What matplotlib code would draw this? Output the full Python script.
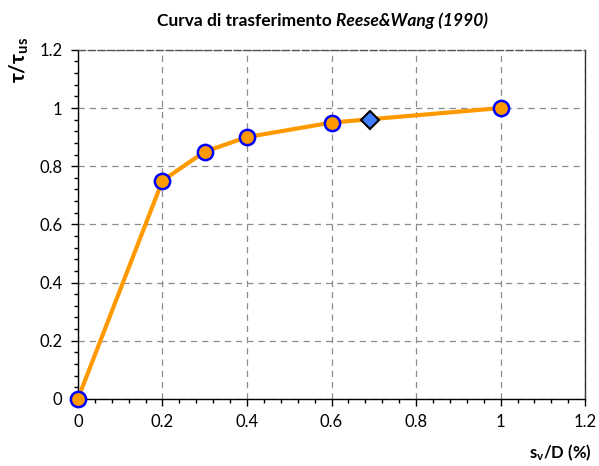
import matplotlib
matplotlib.use("Agg")
import matplotlib.pyplot as plt
from matplotlib.ticker import MultipleLocator

# data
sv_d = [0, 0.2, 0.3, 0.4, 0.6, 1.0]
tau_ratio = [0, 0.75, 0.85, 0.9, 0.95, 1.0]
diamond_x = [0.69]
diamond_y = [0.96]
tick_vals = [0, 0.2, 0.4, 0.6, 0.8, 1.0, 1.2]
tick_labels = ['0', '0.2', '0.4', '0.6', '0.8', '1', '1.2']

plt.rcParams['font.family'] = ['Lato', 'DejaVu Sans']
plt.rcParams['mathtext.fontset'] = 'custom'
plt.rcParams['mathtext.rm'] = 'Lato'
plt.rcParams['mathtext.it'] = 'Lato:italic'
plt.rcParams['mathtext.bf'] = 'Lato:bold'

fig = plt.figure(figsize=(5.99, 4.66), dpi=100)
ax = fig.add_axes([0.130, 0.144, 0.847, 0.749])

ax.plot(sv_d, tau_ratio, color='#ff9900', lw=3, zorder=3, clip_on=False,
        marker='o', ms=11, mfc='#ff9900', mec='#0000ff', mew=1.8)
ax.plot(diamond_x, diamond_y, ls='none', marker='D', ms=9, clip_on=False,
        mfc='#3f7fff', mec='black', mew=1.5, zorder=4)

ax.set_xlim(0, 1.2)
ax.set_ylim(0, 1.2)
ax.set_xticks(tick_vals, tick_labels)
ax.set_yticks(tick_vals, tick_labels)
ax.xaxis.set_minor_locator(MultipleLocator(0.04))
ax.yaxis.set_minor_locator(MultipleLocator(0.04))
ax.tick_params(which='major', direction='out', length=5, width=1,
               labelsize=12, pad=6)
ax.tick_params(which='minor', direction='out', length=3, width=1)

ax.grid(True, which='major', ls=(0, (5, 4)), color='#8c8c8c', lw=0.9, zorder=0)
ax.spines['top'].set_linestyle((0, (5, 2)))
ax.spines['top'].set_color('#555555')
ax.spines['right'].set_color('#333333')
for s in ax.spines.values():
    s.set_linewidth(1.0)
ax.set_axisbelow(True)

# title: bold part + bold italic part
t1 = fig.text(0, 0.955, "Curva di trasferimento ", ha='left', va='center',
              fontsize=12.5, fontweight='bold')
t2 = fig.text(0, 0.955, "Reese&Wang (1990)", ha='left', va='center',
              fontsize=12.5, fontweight='bold', style='italic')
fig.canvas.draw()
r = fig.canvas.get_renderer()
w1 = t1.get_window_extent(r).width / fig.bbox.width
w2 = t2.get_window_extent(r).width / fig.bbox.width
x0 = 0.538 - (w1 + w2) / 2
t1.set_x(x0)
t2.set_x(x0 + w1)

fig.text(0.033, 0.872, r"$\mathbf{\tau/\tau_{us}}$", rotation=90,
         ha='center', va='center', fontsize=15, fontweight='bold')
fig.text(0.935, 0.028, r"$\mathbf{s_v}$/D (%)", ha='center', va='center',
         fontsize=12, fontweight='bold')

fig.savefig('out.png', dpi=100)
